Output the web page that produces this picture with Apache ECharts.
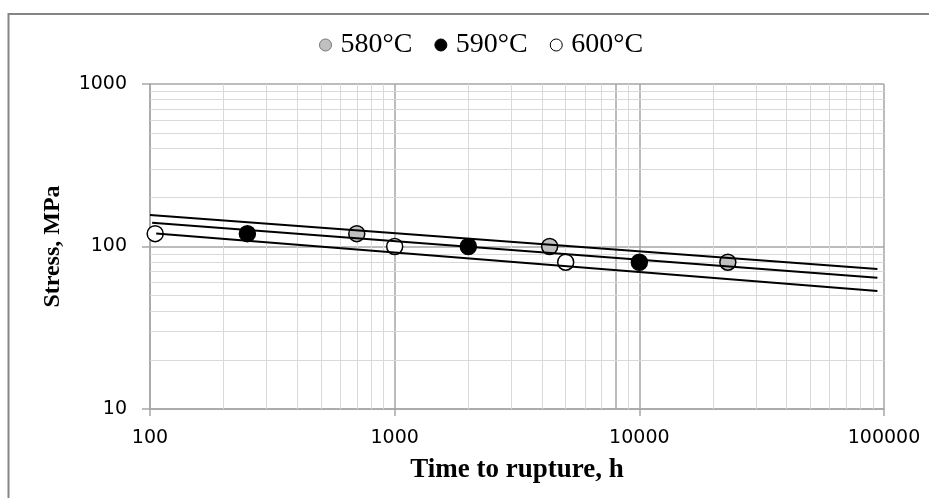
<!DOCTYPE html>
<html>
<head>
<meta charset="utf-8">
<script src="https://cdn.jsdelivr.net/npm/echarts@6/dist/echarts.min.js"></script>
<style>
html,body{margin:0;padding:0;background:#fff;}
#c{width:929px;height:498px;}
</style>
</head>
<body>
<div id="c"></div>
<script>
// Data
var seriesNames = ['580°C', '590°C', '600°C'];
var time580 = [700, 4300, 23000];
var stress580 = [120, 100, 80];
var time590 = [250, 2000, 10000];
var stress590 = [120, 100, 80];
var time600 = [105, 1000, 5000];
var stress600 = [120, 100, 80];
// trend line end points
var trendTime580 = [100, 94000];
var trendStress580 = [156.5, 72.7];
var trendTime590 = [102, 94000];
var trendStress590 = [139.8, 64.3];
var trendTime600 = [106, 94000];
var trendStress600 = [120.3, 53.2];
// axis ticks
var xTicks = [100, 1000, 10000, 100000];
var yTicks = [10, 100, 1000];
var xMinor = [200,300,400,500,600,700,800,900,2000,3000,4000,5000,6000,7000,8000,9000,20000,30000,40000,50000,60000,70000,80000,90000];
var yMinor = [20,30,40,50,60,70,80,90,200,300,400,500,600,700,800,900];

function pairs(xs, ys){ return xs.map(function(x,i){ return [x, ys[i]]; }); }

var chart = echarts.init(document.getElementById('c'), null, {renderer:'canvas'});

var minorLines = [];
xMinor.forEach(function(v){
  minorLines.push({xAxis: v, lineStyle:{color: v===8000 ? '#a6a6a6' : '#d9d9d9', width: v===8000 ? 1.5 : 1, type:'solid'}});
});
yMinor.forEach(function(v){
  minorLines.push({yAxis: v, lineStyle:{color:'#d9d9d9', width:1, type:'solid'}});
});

var fills = ['#c0c0c0', '#000000', '#ffffff'];

var option = {
  animation: false,
  backgroundColor: '#fff',
  graphic: [{
    type:'rect', silent:true, z:-10,
    shape:{x:8.5, y:14, width:1000, height:600},
    style:{fill:'none', stroke:'#858585', lineWidth:2}
  }],
  legend: {
    left: 314, top: 26,
    icon: 'circle', itemWidth: 12, itemHeight: 12, itemGap: 22,
    data: seriesNames.map(function(n, i){
      return {name:n, itemStyle:{color: fills[i], opacity:1, borderColor: i===0 ? '#777' : '#000', borderWidth: 1}};
    }),
    textStyle: {fontFamily:'Liberation Serif', fontSize:28, color:'#000', padding:[0,0,0,4]}
  },
  grid: {left:150, right:45, top:84, bottom:89, containLabel:false},
  xAxis: {
    type:'log', logBase:10, min:100, max:100000,
    name:'Time to rupture, h', nameLocation:'middle', nameGap:48,
    nameTextStyle:{fontFamily:'Liberation Serif', fontWeight:'bold', fontSize:27, color:'#000'},
    axisLine:{show:true, lineStyle:{color:'#a6a6a6', width:1.5}},
    axisTick:{show:true, inside:false, length:7, lineStyle:{color:'#a6a6a6', width:1.5}},
    axisLabel:{fontFamily:'DejaVu Sans', fontSize:19, color:'#000', margin:20,
      formatter:function(v){ return String(Math.round(v)); }},
    splitLine:{show:true, lineStyle:{color:'#a6a6a6', width:1.5}},
    minorTick:{show:false}, minorSplitLine:{show:false}
  },
  yAxis: {
    type:'log', logBase:10, min:10, max:1000,
    name:'Stress, MPa', nameLocation:'middle', nameGap:85, nameRotate:90,
    nameTextStyle:{fontFamily:'Liberation Serif', fontWeight:'bold', fontSize:24, color:'#000'},
    axisLine:{show:true, lineStyle:{color:'#a6a6a6', width:1.5}},
    axisTick:{show:true, inside:false, length:8, lineStyle:{color:'#a6a6a6', width:1.5}},
    axisLabel:{fontFamily:'DejaVu Sans', fontSize:19, color:'#000', margin:23,
      formatter:function(v){ return String(Math.round(v)); }},
    splitLine:{show:true, lineStyle:{color:'#a6a6a6', width:1.5}},
    minorTick:{show:false}, minorSplitLine:{show:false}
  },
  series: [
    {
      name:'grid-minor', type:'scatter', data:[], silent:true, z:1,
      markLine:{silent:true, symbol:['none','none'], label:{show:false}, z:1, data: minorLines}
    },
    {name:seriesNames[0], type:'scatter', z:3, symbol:'circle', symbolSize:16, data:pairs(time580, stress580),
      itemStyle:{color:fills[0], opacity:1, borderColor:'#000', borderWidth:1.5}},
    {name:seriesNames[1], type:'scatter', z:3, symbol:'circle', symbolSize:16, data:pairs(time590, stress590),
      itemStyle:{color:fills[1], opacity:1, borderColor:'#000', borderWidth:1.5}},
    {name:seriesNames[2], type:'scatter', z:3, symbol:'circle', symbolSize:16, data:pairs(time600, stress600),
      itemStyle:{color:fills[2], opacity:1, borderColor:'#000', borderWidth:1.5}},
    {name:'trend580', type:'line', z:5, symbol:'none', silent:true, data:pairs(trendTime580, trendStress580), lineStyle:{color:'#000', width:2}},
    {name:'trend590', type:'line', z:5, symbol:'none', silent:true, data:pairs(trendTime590, trendStress590), lineStyle:{color:'#000', width:2}},
    {name:'trend600', type:'line', z:5, symbol:'none', silent:true, data:pairs(trendTime600, trendStress600), lineStyle:{color:'#000', width:2}}
  ]
};
chart.setOption(option);
</script>
</body>
</html>
